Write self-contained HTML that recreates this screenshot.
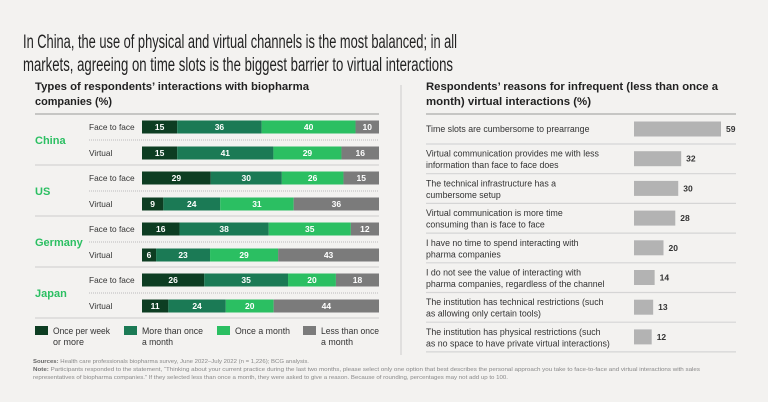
<!DOCTYPE html>
<html><head><meta charset="utf-8"><style>
body{margin:0;background:#f3f2f0;}
svg{display:block;font-family:"Liberation Sans Narrow","Liberation Sans",sans-serif;}
</style></head><body>
<svg id="c" width="768" height="402" viewBox="0 0 768 402">
<rect width="768" height="402" fill="#f3f2f0"/>
<g fill="#222" font-size="19">
<text x="23" y="48" textLength="434" lengthAdjust="spacingAndGlyphs">In China, the use of physical and virtual channels is the most balanced; in all</text>
<text x="23" y="71" textLength="430" lengthAdjust="spacingAndGlyphs">markets, agreeing on time slots is the biggest barrier to virtual interactions</text>
</g>
<g fill="#222" font-size="11" font-weight="bold">
<text x="35" y="90" textLength="274" lengthAdjust="spacingAndGlyphs">Types of respondents’ interactions with biopharma</text>
<text x="35" y="105" textLength="77" lengthAdjust="spacingAndGlyphs">companies (%)</text>
</g>
<g fill="#222" font-size="11" font-weight="bold">
<text x="426" y="90" textLength="292" lengthAdjust="spacingAndGlyphs">Respondents’ reasons for infrequent (less than once a</text>
<text x="426" y="105" textLength="165" lengthAdjust="spacingAndGlyphs">month) virtual interactions (%)</text>
</g>
<line x1="401" y1="85" x2="401" y2="355" stroke="#ccc"/>
<g id="left"></g>
<g id="right"></g>
<g id="legend" font-size="9.5" fill="#333"></g>
<g font-size="5.5" fill="#888">
<text x="33" y="363" textLength="276" lengthAdjust="spacingAndGlyphs"><tspan font-weight="bold" fill="#666">Sources:</tspan> Health care professionals biopharma survey, June 2022–July 2022 (n = 1,226); BCG analysis.</text>
<text x="33" y="371" textLength="667" lengthAdjust="spacingAndGlyphs"><tspan font-weight="bold" fill="#666">Note:</tspan> Participants responded to the statement, “Thinking about your current practice during the last two months, please select only one option that best describes the personal approach you take to face-to-face and virtual interactions with sales</text>
<text x="33" y="379" textLength="475" lengthAdjust="spacingAndGlyphs">representatives of biopharma companies.” If they selected less than once a month, they were asked to give a reason. Because of rounding, percentages may not add up to 100.</text>
</g>
</svg>
<script>
const countries = ["China","US","Germany","Japan"];
const rowTypes = ["Face to face","Virtual"];
const weekly = [15,15,29,9,16,6,26,11];
const moreThanMonthly = [36,41,30,24,38,23,35,24];
const monthly = [40,29,26,31,35,29,20,20];
const lessThanMonthly = [10,16,15,36,12,43,18,44];
const seriesNames = ["Once per week or more","More than once a month","Once a month","Less than once a month"];
const reasons = [
 ["Time slots are cumbersome to prearrange"],
 ["Virtual communication provides me with less","information than face to face does"],
 ["The technical infrastructure has a","cumbersome setup"],
 ["Virtual communication is more time","consuming than is face to face"],
 ["I have no time to spend interacting with","pharma companies"],
 ["I do not see the value of interacting with","pharma companies, regardless of the channel"],
 ["The institution has technical restrictions (such","as allowing only certain tools)"],
 ["The institution has physical restrictions (such","as no space to have private virtual interactions)"]
];
const reasonValues = [59,32,30,28,20,14,13,12];

const NS="http://www.w3.org/2000/svg";
function mk(tag,attrs,parent,text){const e=document.createElementNS(NS,tag);for(const k in attrs)e.setAttribute(k,attrs[k]);if(text!==undefined)e.textContent=text;parent.appendChild(e);return e;}
const colors=["#0d3d22","#1b7a55","#2bbf62","#7b7b7b"];
const series=[weekly,moreThanMonthly,monthly,lessThanMonthly];
const left=document.getElementById('left');
const x0=142, xW=237;
function xs(v,tot){return v/tot*xW;}
function rowY(i){return 127+Math.floor(i/2)*51+(i%2)*26;}
let l=mk('line',{x1:35,x2:379,y1:114,y2:114,stroke:'#999'},left);

countries.forEach((c,ci)=>{
 const yc=rowY(ci*2)+13;
 let t=mk('text',{x:35,y:yc+4,'font-size':11,'font-weight':'bold',fill:'#2bbf62'},left,c);
 
 let d=mk('line',{x1:89,x2:379,y1:yc,y2:yc,stroke:'#bbb','stroke-dasharray':'1,1'},left);
 
 let s=mk('line',{x1:35,x2:379,y1:rowY(ci*2)+38,y2:rowY(ci*2)+38,stroke:'#ccc'},left);
 
});
for(let i=0;i<8;i++){
 const y=rowY(i);
 let t=mk('text',{x:89,y:y+3,'font-size':8.3,fill:'#333'},left,rowTypes[i%2]);
 
 const tot=series.reduce((a,s)=>a+s[i],0);
 let x=x0;
 series.forEach((s,si)=>{
  const w=xs(s[i],tot);
  let r=mk('rect',{x:x,y:y-6.5,width:w,height:13,fill:colors[si]},left);
  
  let v=mk('text',{x:x+w/2,y:y+3.2,'font-size':8.5,'font-weight':'bold',fill:'#fff','text-anchor':'middle'},left,s[i]);
  
  x+=w;
 });
}
// legend
const leg=document.getElementById('legend');
const lx=[35,124,217,303];
const legL1=["Once per week","More than once","Once a month","Less than once"];
const legL2=["or more","a month","","a month"];
const legW1=[57,61,55,58];
const legW2=[31,31,0,32];
seriesNames.forEach((n,i)=>{
 let r=mk('rect',{x:lx[i],y:326,width:13,height:9,fill:colors[i]},leg);
 
 let t=mk('text',{x:lx[i]+18,y:334,textLength:legW1[i],lengthAdjust:'spacingAndGlyphs'},leg,legL1[i]);
 
 if(legL2[i]){let t2=mk('text',{x:lx[i]+18,y:345,textLength:legW2[i],lengthAdjust:'spacingAndGlyphs'},leg,legL2[i]);
 }
});
// right chart
const right=document.getElementById('right');
const rx0=634, rScale=87/59;
let rl=mk('line',{x1:426,x2:736,y1:114,y2:114,stroke:'#999'},right);

reasons.forEach((lines,i)=>{
 const yc=129+i*29.7;
 lines.forEach((ln,j)=>{
  const yy=lines.length===1?yc+3:yc-2+j*11.5;
  let t=mk('text',{x:426,y:yy,'font-size':8.8,fill:'#333'},right,ln);
  
 });
 const w=reasonValues[i]*rScale;
 let r=mk('rect',{x:rx0,y:yc-7.5,width:w,height:15,fill:'#b3b3b3'},right);
 
 let v=mk('text',{x:rx0+w+5,y:yc+3,'font-size':8.5,'font-weight':'bold',fill:'#333'},right,reasonValues[i]);
 
 let s=mk('line',{x1:426,x2:736,y1:yc+15,y2:yc+15,stroke:'#d5d5d5','stroke-width':1.2},right);
 
});
</script>
</body></html>
